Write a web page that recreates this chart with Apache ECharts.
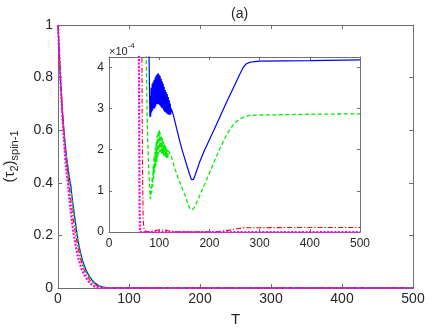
<!DOCTYPE html>
<html><head><meta charset="utf-8">
<script src="https://cdn.jsdelivr.net/npm/echarts@6/dist/echarts.min.js"></script>
<style>html,body{margin:0;padding:0;background:#fff}#c{width:436px;height:328px}</style>
</head><body><div id="c"></div>
<script>
// x ticks (T)
const xTickValues = [0, 100, 200, 300, 400, 500];
const mainYTicks = [0, 0.2, 0.4, 0.6, 0.8, 1];
const insetYTicks = [0, 1, 2, 3, 4];

// Early decay part of each curve: [T, value] (absolute units)
const blueEarly = [[0,1],[2,0.88],[4,0.77],[6,0.68],[8,0.61],[10,0.55],[12,0.5],[14,0.46],[16,0.42],[18,0.39],[20,0.34],[22,0.3],[24,0.26],[27,0.2],[30,0.155],[33,0.12],[36,0.092],[40,0.065],[44,0.045],[48,0.03],[52,0.019],[56,0.011],[60,0.006],[64,0.003],[68,0.0016],[72,0.001],[76,0.0007],[79,0.0005]];
const greenEarly = [[0,1],[2,0.88],[4,0.77],[6,0.68],[8,0.6],[10,0.54],[12,0.49],[14,0.45],[16,0.41],[18,0.37],[20,0.325],[22,0.285],[24,0.245],[27,0.19],[30,0.145],[33,0.11],[36,0.083],[40,0.058],[44,0.04],[48,0.026],[52,0.016],[56,0.009],[60,0.005],[64,0.0025],[68,0.0013],[72,0.0007]];
const redEarly = [[0,1],[2,0.87],[4,0.765],[6,0.67],[8,0.59],[10,0.52],[12,0.47],[14,0.43],[16,0.38],[18,0.33],[20,0.29],[22,0.25],[25,0.2],[28,0.155],[31,0.118],[34,0.09],[37,0.068],[40,0.05],[44,0.033],[48,0.021],[52,0.012],[56,0.0065],[60,0.003],[63,0.0013],[65,0.0006]];
const magentaEarly = [[0,1],[2,0.87],[4,0.76],[6,0.66],[8,0.58],[10,0.5],[12,0.44],[14,0.4],[16,0.34],[18,0.29],[20,0.245],[22,0.205],[25,0.16],[28,0.12],[31,0.09],[34,0.067],[37,0.05],[40,0.037],[43,0.025],[46,0.016],[49,0.009],[52,0.005],[55,0.0025],[58,0.0012],[59,0.0006]];

// Late part of each curve: [T, value in units of 1e-4]
const blueLate = [[80.5,3.6],[81.5,2.8],[82,3.3],[83,2.8],[84,3.5],[85,2.9],[86,3.6],[87,2.95],[88,3.65],[89,3.0],[90,3.7],[91,3.0],[92,3.75],[93,3.05],[94,3.8],[95,3.1],[96,3.83],[97,3.1],[98,3.86],[99,3.1],[100,3.82],[101,3.08],[102,3.78],[103,3.05],[104,3.72],[105,3.02],[106,3.66],[107,3.0],[108,3.6],[109,2.95],[110,3.52],[111,2.92],[112,3.45],[113,2.9],[114,3.4],[115,2.88],[116,3.35],[117,2.86],[118,3.28],[119,2.85],[120,3.2],[121,2.85],[122,3.12],[123,2.85],[124,3.0],[128,2.85],[132,2.65],[136,2.45],[140,2.25],[145,2.02],[150,1.82],[155,1.62],[160,1.42],[164,1.28],[166,1.25],[168,1.27],[171,1.36],[175,1.5],[180,1.68],[190,1.98],[200,2.24],[210,2.5],[220,2.77],[230,3.04],[240,3.3],[250,3.56],[260,3.82],[267,3.99],[273,4.08],[280,4.12],[290,4.14],[300,4.15],[400,4.16],[500,4.18]];
const greenLate = [[74,4.6],[75,3.6],[76,2.9],[77,2.3],[78,1.9],[80,1.3],[82,0.85],[83,0.8],[84,1.1],[85,0.95],[86,1.35],[87,1.1],[88,1.6],[89,1.3],[90,1.85],[91,1.45],[92,2.05],[93,1.6],[94,2.2],[95,1.7],[96,2.35],[97,1.8],[98,2.45],[99,1.9],[100,2.48],[101,1.95],[102,2.42],[103,1.95],[104,2.35],[105,1.9],[106,2.28],[107,1.9],[108,2.2],[109,1.85],[110,2.15],[111,1.85],[112,2.1],[113,1.8],[114,2.05],[115,1.8],[116,2.0],[117,1.78],[118,1.98],[120,1.95],[124,1.85],[130,1.58],[138,1.3],[145,1.08],[151,0.9],[157,0.7],[161,0.57],[163,0.53],[166,0.54],[170,0.6],[175,0.72],[180,0.87],[190,1.15],[200,1.43],[210,1.72],[220,2.0],[230,2.26],[240,2.48],[250,2.64],[260,2.74],[270,2.8],[280,2.83],[300,2.84],[400,2.86],[500,2.87]];
const redLate = [[66,3.0],[67,1.2],[68,0.3],[70,0.05],[75,0.01],[80,0.01],[85,0.02],[88,0.05],[90,0.03],[92,0.07],[94,0.04],[96,0.08],[98,0.05],[100,0.09],[102,0.05],[104,0.09],[106,0.05],[108,0.08],[110,0.05],[112,0.07],[115,0.04],[118,0.05],[122,0.02],[126,0.02],[135,0.01],[150,0.005],[180,0.005],[210,0.01],[225,0.02],[240,0.045],[255,0.08],[267,0.1],[280,0.105],[300,0.105],[400,0.11],[500,0.11]];
const magentaLate = [[60,3.0],[61,0.5],[62,0],[100,0],[200,0],[300,0],[400,0],[500,0]];

const SCALE = 1e-4;
function mainData(early, late) { return early.concat(late.map(p => [p[0], p[1] * SCALE])); }
function insetData(early, late) { return early.map(p => [p[0], p[1] / SCALE]).concat(late); }

const FONT = 'Liberation Sans';
const TXT = '#262626';
const AX = '#707070';

function xAx(grid, pos, show, fs, tickLen) {
  return {
    type: 'value', gridIndex: grid, position: pos, min: 0, max: 500, interval: 100,
    axisLine: { show: true, onZero: false, lineStyle: { color: AX, width: 1 } },
    axisTick: { show: true, inside: true, length: tickLen, lineStyle: { color: AX } },
    axisLabel: { show: show, fontFamily: FONT, fontSize: fs, color: TXT, margin: fs > 13 ? 4 : 6 },
    splitLine: { show: false }
  };
}
function yAx(grid, pos, show, max, interval, fs, tickLen) {
  return {
    type: 'value', gridIndex: grid, position: pos, min: 0, max: max, interval: interval,
    axisLine: { show: true, onZero: false, lineStyle: { color: AX, width: 1 } },
    axisTick: { show: true, inside: true, length: tickLen, lineStyle: { color: AX } },
    axisLabel: { show: show, fontFamily: FONT, fontSize: fs, color: TXT, margin: 5,
      formatter: v => (Math.abs(v / interval - Math.round(v / interval)) < 1e-9 ? String(+v.toFixed(4)) : '') },
    splitLine: { show: false }
  };
}

const styles = [
  { name: 'blue', early: blueEarly, late: blueLate, color: '#0000ff', width: 1.2, type: 'solid' },
  { name: 'green', early: greenEarly, late: greenLate, color: '#00ee00', width: 1.3, type: [4, 2.5] },
  { name: 'red', early: redEarly, late: redLate, color: '#ff0000', width: 1.1, type: [5, 2, 1.2, 2] },
  { name: 'magenta', early: magentaEarly, late: magentaLate, color: '#ff00ff', width: 2.2, type: [2, 1.6] }
];

const series = [];
styles.forEach(s => {
  series.push({ type: 'line', name: s.name, xAxisIndex: 0, yAxisIndex: 0, data: mainData(s.early, s.late),
    showSymbol: false, symbol: 'none', clip: true, animation: false,
    lineStyle: { color: s.color, width: s.width, type: s.type } });
});
styles.forEach(s => {
  series.push({ type: 'line', name: s.name + 'i', xAxisIndex: 2, yAxisIndex: 2, data: insetData(s.early, s.late),
    showSymbol: false, symbol: 'none', clip: true, animation: false,
    lineStyle: { color: s.color, width: s.width, type: s.type } });
});

const chart = echarts.init(document.getElementById('c'), null, { renderer: 'canvas' });
chart.setOption({
  backgroundColor: '#fff',
  animation: false,
  title: { text: '(a)', left: 226, top: 2, textStyle: { fontFamily: FONT, fontSize: 14, fontWeight: 'normal', color: TXT } },
  grid: [
    { left: 58, right: 23, top: 25, bottom: 40, show: false, containLabel: false, outerBoundsMode: 'none' },
    { left: 109, right: 76, top: 57, bottom: 96, show: true, backgroundColor: '#fff', borderWidth: 0, containLabel: false, outerBoundsMode: 'none' }
  ],
  xAxis: [
    Object.assign(xAx(0, 'bottom', true, 14, 4), { name: 'T', nameLocation: 'middle', nameGap: 24,
      nameTextStyle: { fontFamily: FONT, fontSize: 15, color: TXT } }),
    xAx(0, 'top', false, 14, 4),
    xAx(1, 'bottom', true, 12, 3),
    xAx(1, 'top', false, 12, 3)
  ],
  yAxis: [
    Object.assign(yAx(0, 'left', true, 1, 0.2, 14, 4), {
      name: '{a|(τ}{s|2}{a|)}{s|spin-1}', nameLocation: 'middle', nameGap: 38, nameRotate: 90,
      nameTextStyle: { fontFamily: FONT, color: TXT, rich: {
        a: { fontFamily: FONT, fontSize: 15, color: TXT, lineHeight: 20, verticalAlign: 'middle' },
        s: { fontFamily: FONT, fontSize: 11, color: TXT, verticalAlign: 'bottom', padding: [7, 0, 0, 0] } } } }),
    yAx(0, 'right', false, 1, 0.2, 14, 4),
    yAx(1, 'left', true, 4.25, 1, 12, 3),
    yAx(1, 'right', false, 4.25, 1, 12, 3)
  ],
  graphic: [
    { type: 'text', left: 109, top: 42, z: 100, style: { text: '{a|×10}{s|-4}', rich: {
      a: { fontFamily: FONT, fontSize: 11, fill: TXT, color: TXT, verticalAlign: 'bottom', padding: [4, 0, 0, 0] },
      s: { fontFamily: FONT, fontSize: 8, fill: TXT, color: TXT, verticalAlign: 'top' } } } }
  ],
  series: series
});
</script>
</body></html>
